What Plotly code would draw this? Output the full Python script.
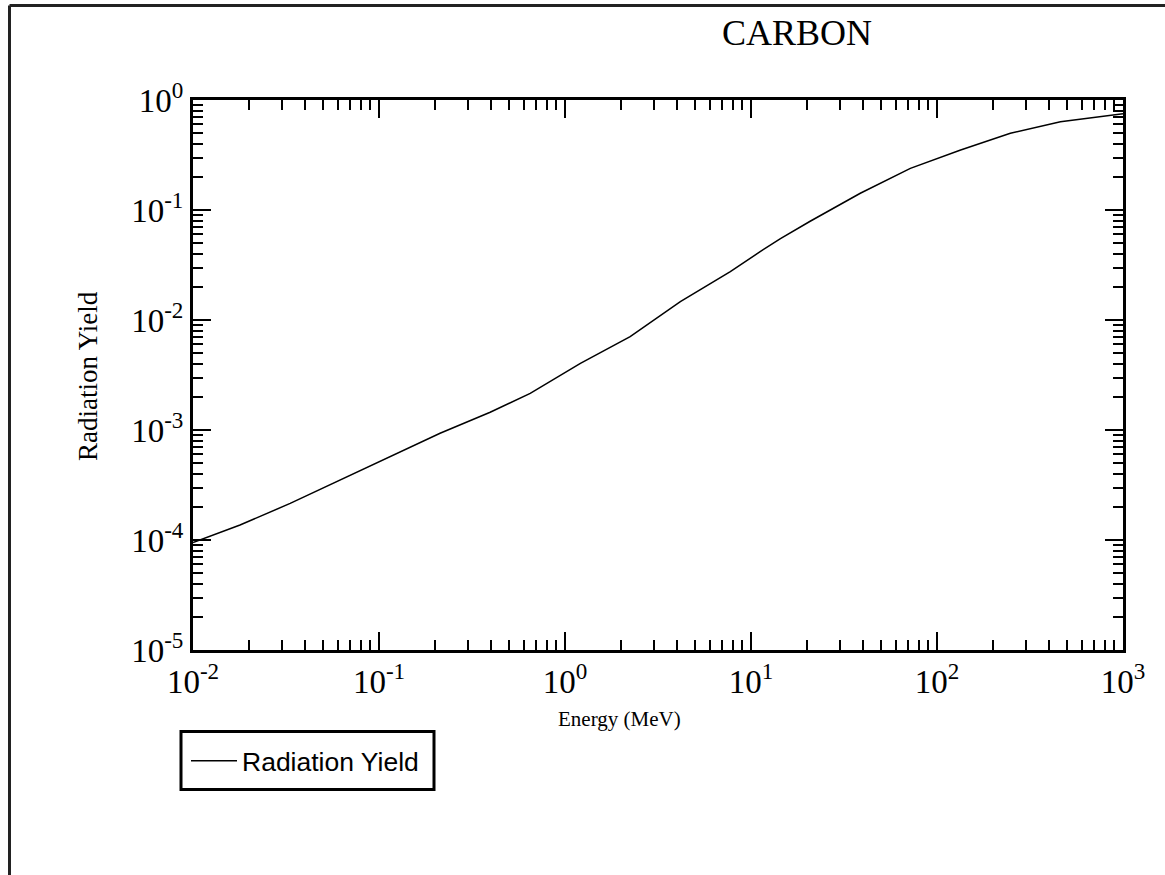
import plotly.graph_objects as go

# Data
energy_mev = [0.01, 0.0179, 0.0333, 0.0618, 0.115, 0.213, 0.396, 0.65, 1.21, 2.24,
              4.17, 7.74, 11.2, 14.4, 20.8, 38.7, 71.9, 134, 248, 461, 1000]
radiation_yield = [9.5e-5, 1.37e-4, 2.15e-4, 3.51e-4, 5.71e-4, 9.33e-4, 1.45e-3, 2.15e-3,
                   4.04e-3, 7.05e-3, 1.47e-2, 2.75e-2, 4.18e-2, 5.5e-2, 7.9e-2, 0.142,
                   0.239, 0.351, 0.498, 0.635, 0.75]
series_name = "Radiation Yield"
title_text = "CARBON"
x_title = "Energy (MeV)"
y_title = "Radiation Yield"
x_tick_vals = [0.01, 0.1, 1, 10, 100, 1000]
x_tick_text = ["10<sup>-2</sup>", "10<sup>-1</sup>", "10<sup>0</sup>",
               "10<sup>1</sup>", "10<sup>2</sup>", "10<sup>3</sup>"]
y_tick_vals = [1e-5, 1e-4, 1e-3, 1e-2, 1e-1, 1]
y_tick_text = ["10<sup>-5</sup>", "10<sup>-4</sup>", "10<sup>-3</sup>",
               "10<sup>-2</sup>", "10<sup>-1</sup>", "10<sup>0</sup>"]

W, H = 1165, 875
L, R, T, B = 193, 1123, 100, 650


def px(x):
    return (x - L) / (R - L)


def py(y):
    return (B - y) / (B - T)


def minor_vals(d0, d1):
    return [m * 10.0 ** d for d in range(d0, d1) for m in range(2, 10)]


fig = go.Figure()
fig.add_trace(go.Scatter(x=energy_mev, y=radiation_yield, mode="lines",
                         name=series_name, line=dict(color="black", width=1.5)))

serif = "Liberation Serif, Times New Roman, serif"
axis_common = dict(
    type="log", showline=True, linecolor="black", linewidth=3, mirror="ticks",
    ticks="inside", ticklen=18, tickwidth=2, tickcolor="black",
    showgrid=False, zeroline=False, tickmode="array",
    tickfont=dict(family=serif, size=33, color="black"),
)
fig.update_xaxes(range=[-2, 3], tickvals=x_tick_vals, ticktext=x_tick_text,
                 minor=dict(tickmode="array", tickvals=minor_vals(-2, 3), ticks="inside",
                            ticklen=10, tickwidth=2, tickcolor="black", showgrid=False),
                 **axis_common)
fig.update_yaxes(range=[-5, 0], tickvals=y_tick_vals, ticktext=y_tick_text,
                 minor=dict(tickmode="array", tickvals=minor_vals(-5, 0), ticks="inside",
                            ticklen=10, tickwidth=2, tickcolor="black", showgrid=False),
                 **axis_common)

fig.update_layout(
    width=W, height=H,
    margin=dict(l=L, r=W - R, t=T, b=H - B),
    paper_bgcolor="white", plot_bgcolor="white",
    title=dict(text=title_text, x=797 / W, xanchor="center", y=1 - 32 / H, yanchor="middle",
               font=dict(family=serif, size=36, color="black")),
    showlegend=True,
    legend=dict(x=px(186), y=py(737), xanchor="left", yanchor="top",
                borderwidth=0, bgcolor="rgba(0,0,0,0)", itemwidth=46,
                font=dict(family="Liberation Sans, Arial, sans-serif", size=26.5, color="black")),
    annotations=[
        dict(text=x_title, xref="paper", yref="paper", x=px(619), y=py(719),
             xanchor="center", yanchor="middle", showarrow=False,
             font=dict(family=serif, size=21, color="black")),
        dict(text=y_title, xref="paper", yref="paper", x=px(88), y=py(376),
             xanchor="center", yanchor="middle", showarrow=False, textangle=-90,
             font=dict(family=serif, size=27, color="black")),
    ],
    shapes=[
        dict(type="line", xref="paper", yref="paper", x0=px(9.5), x1=px(W + 5),
             y0=py(5.5), y1=py(5.5), line=dict(color="#222", width=3)),
        dict(type="line", xref="paper", yref="paper", x0=px(9.5), x1=px(9.5),
             y0=py(5.5), y1=py(H + 5), line=dict(color="#222", width=3)),
        dict(type="rect", xref="paper", yref="paper", x0=px(181), x1=px(434),
             y0=py(731.5), y1=py(789.5), line=dict(color="black", width=3)),
    ],
)

fig.write_html("out.html", config={"displayModeBar": False},
               post_script="document.body.style.margin='0';")
